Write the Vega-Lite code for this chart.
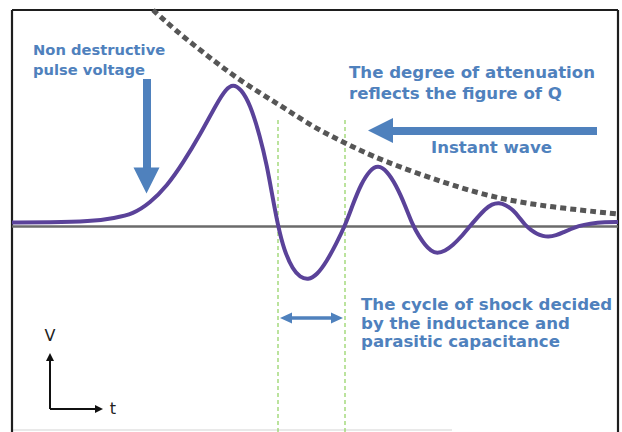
{
  "$schema": "https://vega.github.io/schema/vega-lite/v6.json",
  "width": 622,
  "height": 432,
  "padding": 0,
  "autosize": {"type": "none"},
  "background": "white",
  "config": {"view": {"stroke": null}},
  "datasets": {
    "frame": [
      {"t": 12, "v": 216, "t2": 12, "v2": -206},
      {"t": 12, "v": 216, "t2": 618, "v2": 216},
      {"t": 618, "v": 216, "t2": 618, "v2": -206}
    ],
    "bottomEdge": [{"t": 12, "v": -204, "t2": 452, "v2": -204}],
    "baseline": [{"t": 12, "v": -0.5, "t2": 618, "v2": -0.5}],
    "guides": [
      {"t": 278, "v": 106, "t2": 278, "v2": -206},
      {"t": 345, "v": 106, "t2": 345, "v2": -206}
    ],
    "envelope": [
      {"t": 153, "v": 216}, {"t": 175, "v": 196}, {"t": 200, "v": 176},
      {"t": 240, "v": 145}, {"t": 280, "v": 121}, {"t": 313, "v": 99},
      {"t": 345, "v": 83}, {"t": 380, "v": 66}, {"t": 450, "v": 41},
      {"t": 500, "v": 27}, {"t": 550, "v": 19}, {"t": 618, "v": 12}
    ],
    "wave": [
      {"t": 12, "v": 3.5}, {"t": 50, "v": 3.5}, {"t": 90, "v": 4.5}, {"t": 115, "v": 8},
      {"t": 133, "v": 12}, {"t": 150, "v": 23}, {"t": 167, "v": 40}, {"t": 183, "v": 63},
      {"t": 200, "v": 91}, {"t": 217, "v": 123}, {"t": 226, "v": 137}, {"t": 233, "v": 142},
      {"t": 241, "v": 137}, {"t": 250, "v": 122}, {"t": 260, "v": 90}, {"t": 267, "v": 60},
      {"t": 272, "v": 32}, {"t": 278, "v": 0}, {"t": 284, "v": -24}, {"t": 293, "v": -44},
      {"t": 300, "v": -51}, {"t": 308, "v": -54}, {"t": 317, "v": -49}, {"t": 327, "v": -35},
      {"t": 336, "v": -18}, {"t": 345, "v": 0}, {"t": 353, "v": 22}, {"t": 361, "v": 42},
      {"t": 370, "v": 56}, {"t": 378, "v": 61}, {"t": 387, "v": 55}, {"t": 396, "v": 41},
      {"t": 405, "v": 21}, {"t": 413, "v": 0}, {"t": 419, "v": -10}, {"t": 425, "v": -19},
      {"t": 431, "v": -25}, {"t": 437, "v": -27.5}, {"t": 445, "v": -25}, {"t": 453, "v": -19},
      {"t": 461, "v": -11}, {"t": 470, "v": 0}, {"t": 477, "v": 8}, {"t": 485, "v": 17},
      {"t": 492, "v": 22}, {"t": 499, "v": 23.5}, {"t": 506, "v": 21}, {"t": 513, "v": 16},
      {"t": 519, "v": 9}, {"t": 525, "v": 1}, {"t": 531, "v": -4}, {"t": 537, "v": -8},
      {"t": 543, "v": -10}, {"t": 548, "v": -11}, {"t": 556, "v": -9.5}, {"t": 564, "v": -6},
      {"t": 571, "v": -3}, {"t": 578, "v": 0}, {"t": 590, "v": 2.5}, {"t": 605, "v": 4},
      {"t": 618, "v": 4}
    ],
    "thickShafts": [
      {"t": 147, "v": 147, "t2": 147, "v2": 56},
      {"t": 390, "v": 95, "t2": 597, "v2": 95}
    ],
    "thinShaft": [{"t": 288, "v": -92, "t2": 336, "v2": -92}],
    "headDown": [{"t": 146.5, "v": 45.5}],
    "headLeft": [{"t": 380.5, "v": 95.5}],
    "headSmallLeft": [{"t": 286, "v": -92}],
    "headSmallRight": [{"t": 337, "v": -92}],
    "vtAxes": [
      {"t": 50, "v": -134, "t2": 50, "v2": -183},
      {"t": 50, "v": -183, "t2": 96, "v2": -183}
    ],
    "vtUp": [{"t": 50, "v": -131}],
    "vtRight": [{"t": 99, "v": -183}],
    "leftText": [
      {"t": 33, "v": 171.5, "label": "Non destructive"},
      {"t": 33, "v": 151.5, "label": "pulse voltage"}
    ],
    "rightText": [
      {"t": 349, "v": 148, "label": "The degree of attenuation"},
      {"t": 349, "v": 127, "label": "reflects the figure of Q"},
      {"t": 431, "v": 73, "label": "Instant wave"},
      {"t": 361, "v": -84, "label": "The cycle of shock decided"},
      {"t": 361, "v": -103, "label": "by the inductance and"},
      {"t": 361, "v": -121, "label": "parasitic capacitance"}
    ],
    "vtText": [
      {"t": 50, "v": -115, "label": "V"},
      {"t": 113, "v": -188, "label": "t"}
    ]
  },
  "encoding": {
    "x": {"field": "t", "type": "quantitative", "axis": null, "scale": {"domain": [0, 622], "nice": false, "zero": false}},
    "y": {"field": "v", "type": "quantitative", "axis": null, "scale": {"domain": [-206, 226], "nice": false, "zero": false}}
  },
  "layer": [
    {"data": {"name": "bottomEdge"}, "mark": {"type": "rule", "color": "#e2e2e2", "strokeWidth": 1.5}, "encoding": {"x2": {"field": "t2"}, "y2": {"field": "v2"}}},
    {"data": {"name": "frame"}, "mark": {"type": "rule", "color": "#1e1e1e", "strokeWidth": 2.2}, "encoding": {"x2": {"field": "t2"}, "y2": {"field": "v2"}}},
    {"data": {"name": "guides"}, "mark": {"type": "rule", "color": "#97d46a", "strokeWidth": 1.3, "strokeDash": [4, 3]}, "encoding": {"x2": {"field": "t2"}, "y2": {"field": "v2"}}},
    {"data": {"name": "baseline"}, "mark": {"type": "rule", "color": "#6b6b6b", "strokeWidth": 2.5}, "encoding": {"x2": {"field": "t2"}, "y2": {"field": "v2"}}},
    {"data": {"name": "envelope"}, "mark": {"type": "line", "color": "#565656", "strokeWidth": 5, "strokeDash": [6, 4], "strokeCap": "butt", "interpolate": "basis"}},
    {"data": {"name": "wave"}, "mark": {"type": "line", "color": "#5a4299", "strokeWidth": 4, "interpolate": "basis"}},
    {"data": {"name": "thickShafts"}, "mark": {"type": "rule", "color": "#4f81bd", "strokeWidth": 8, "strokeCap": "butt"}, "encoding": {"x2": {"field": "t2"}, "y2": {"field": "v2"}}},
    {"data": {"name": "thinShaft"}, "mark": {"type": "rule", "color": "#4f81bd", "strokeWidth": 3.5, "strokeCap": "butt"}, "encoding": {"x2": {"field": "t2"}, "y2": {"field": "v2"}}},
    {"data": {"name": "headDown"}, "mark": {"type": "point", "shape": "M-1,-1L1,-1L0,1Z", "size": 676, "filled": true, "color": "#4f81bd", "opacity": 1}},
    {"data": {"name": "headLeft"}, "mark": {"type": "point", "shape": "M1,-1L1,1L-1,0Z", "size": 625, "filled": true, "color": "#4f81bd", "opacity": 1}},
    {"data": {"name": "headSmallLeft"}, "mark": {"type": "point", "shape": "M-1,0L1,-0.9L1,0.9Z", "size": 144, "filled": true, "color": "#4f81bd", "opacity": 1}},
    {"data": {"name": "headSmallRight"}, "mark": {"type": "point", "shape": "M1,0L-1,-0.9L-1,0.9Z", "size": 144, "filled": true, "color": "#4f81bd", "opacity": 1}},
    {"data": {"name": "vtAxes"}, "mark": {"type": "rule", "color": "#111111", "strokeWidth": 2}, "encoding": {"x2": {"field": "t2"}, "y2": {"field": "v2"}}},
    {"data": {"name": "vtUp"}, "mark": {"type": "point", "shape": "M0,-1L1,1L-1,1Z", "size": 64, "filled": true, "color": "#111111", "opacity": 1}},
    {"data": {"name": "vtRight"}, "mark": {"type": "point", "shape": "M1,0L-1,-1L-1,1Z", "size": 64, "filled": true, "color": "#111111", "opacity": 1}},
    {"data": {"name": "leftText"}, "mark": {"type": "text", "align": "left", "baseline": "alphabetic", "font": "DejaVu Sans", "fontWeight": "bold", "fontSize": 14.7, "color": "#4f81bd"}, "encoding": {"text": {"field": "label"}}},
    {"data": {"name": "rightText"}, "mark": {"type": "text", "align": "left", "baseline": "alphabetic", "font": "DejaVu Sans", "fontWeight": "bold", "fontSize": 16.6, "color": "#4f81bd"}, "encoding": {"text": {"field": "label"}}},
    {"data": {"name": "vtText"}, "mark": {"type": "text", "align": "center", "baseline": "alphabetic", "font": "DejaVu Sans", "fontSize": 16, "color": "#222222"}, "encoding": {"text": {"field": "label"}}}
  ]
}
